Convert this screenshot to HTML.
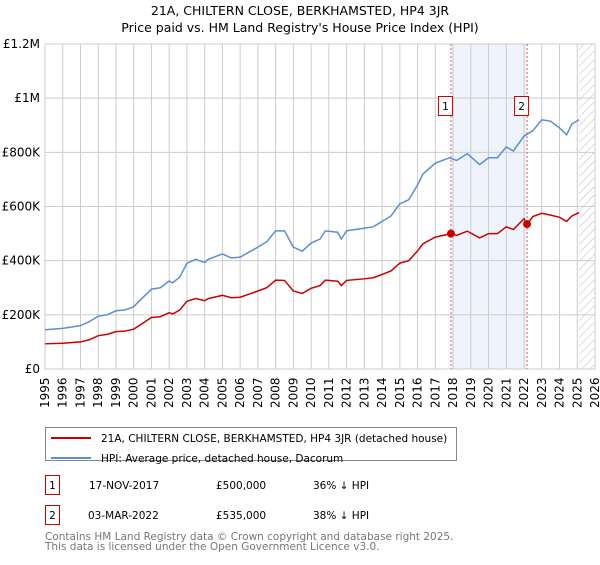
<!DOCTYPE html>
<html><head><meta charset="utf-8"><style>
body{margin:0;background:#fff;font-family:"Liberation Sans","DejaVu Sans",sans-serif}
svg text{font-family:"DejaVu Sans","Liberation Sans",sans-serif}
</style></head><body>
<svg id="c" width="600" height="560" xmlns="http://www.w3.org/2000/svg">
<defs><pattern id="hatch" width="6" height="6" patternUnits="userSpaceOnUse" patternTransform="rotate(45)"><line x1="0" y1="0" x2="0" y2="6" stroke="#bbb" stroke-width="1"/></pattern></defs>
<text x="300" y="15" text-anchor="middle" font-size="12.5">21A, CHILTERN CLOSE, BERKHAMSTED, HP4 3JR</text>
<text x="300" y="32" text-anchor="middle" font-size="12.5">Price paid vs. HM Land Registry's House Price Index (HPI)</text>
<g id="plot"></g>
<g>
<rect x="45.5" y="427.5" width="411" height="33" fill="#fff" stroke="#888"/>
<line x1="51" y1="438" x2="91" y2="438" stroke="#cc0000" stroke-width="2"/>
<text x="101" y="442" font-size="10.5">21A, CHILTERN CLOSE, BERKHAMSTED, HP4 3JR (detached house)</text>
<line x1="51" y1="458" x2="91" y2="458" stroke="#5b8fd4" stroke-width="2"/>
<text x="101" y="462" font-size="10.5">HPI: Average price, detached house, Dacorum</text>
</g>
<g font-size="10.5">
<rect x="45.5" y="475.5" width="14" height="19" fill="#fff" stroke="#cc0000"/>
<text x="52.5" y="489" text-anchor="middle">1</text>
<text x="89" y="489">17-NOV-2017</text><text x="216" y="489">£500,000</text><text x="313" y="489">36% ↓ HPI</text>
<rect x="45.5" y="505.5" width="14" height="19" fill="#fff" stroke="#cc0000"/>
<text x="52.5" y="519" text-anchor="middle">2</text>
<text x="88" y="519">03-MAR-2022</text><text x="216" y="519">£535,000</text><text x="313" y="519">38% ↓ HPI</text>
</g>
<text x="45" y="540" font-size="10.5" fill="#777">Contains HM Land Registry data © Crown copyright and database right 2025.</text>
<text x="45" y="550" font-size="10.5" fill="#777">This data is licensed under the Open Government Licence v3.0.</text>
</svg>
<script>
const yearTicks=[1995,1996,1997,1998,1999,2000,2001,2002,2003,2004,2005,2006,2007,2008,2009,2010,2011,2012,2013,2014,2015,2016,2017,2018,2019,2020,2021,2022,2023,2024,2025,2026];
const valueTicks=[0,200000,400000,600000,800000,1000000,1200000];
const valueTickLabels=["£0","£200K","£400K","£600K","£800K","£1M","£1.2M"];
const hpiYears=[1995,1996,1997,1997.5,1998,1998.5,1999,1999.5,2000,2000.3,2001,2001.5,2002,2002.2,2002.6,2003,2003.5,2004,2004.2,2005,2005.5,2006,2007,2007.5,2008,2008.5,2009,2009.5,2010,2010.5,2010.8,2011.5,2011.7,2012,2013,2013.5,2014,2014.5,2015,2015.5,2016,2016.3,2017,2017.8,2018.2,2018.8,2019.5,2020,2020.5,2021,2021.4,2022,2022.5,2023,2023.5,2024,2024.4,2024.7,2025.1];
const hpiValues=[145000,150000,160000,175000,195000,200000,215000,218000,230000,250000,295000,300000,325000,318000,340000,390000,405000,393000,405000,425000,410000,413000,450000,470000,510000,510000,450000,435000,465000,480000,510000,505000,480000,510000,520000,525000,545000,565000,610000,625000,680000,720000,760000,780000,770000,795000,755000,780000,780000,820000,805000,860000,880000,920000,915000,890000,865000,905000,920000];
const propYears=[1995,1996,1997,1997.5,1998,1998.5,1999,1999.5,2000,2000.3,2001,2001.5,2002,2002.2,2002.6,2003,2003.5,2004,2004.2,2005,2005.5,2006,2007,2007.5,2008,2008.5,2009,2009.5,2010,2010.5,2010.8,2011.5,2011.7,2012,2013,2013.5,2014,2014.5,2015,2015.5,2016,2016.3,2017,2017.88,2018.2,2018.8,2019.5,2020,2020.5,2021,2021.4,2022,2022.17,2022.5,2023,2023.5,2024,2024.4,2024.7,2025.1];
const propValues=[93000,95000,100000,108000,123000,128000,138000,140000,147000,160000,190000,193000,208000,203000,218000,250000,260000,252000,260000,272000,263000,265000,288000,300000,328000,327000,288000,279000,298000,308000,328000,324000,308000,327000,333000,337000,349000,362000,391000,400000,436000,462000,487000,500000,493000,509000,484000,500000,500000,525000,515000,555000,535000,563000,575000,568000,560000,545000,565000,578000];
const saleYears=[2017.88,2022.17];
const saleValues=[500000,535000];
const saleLabels=["1","2"];
const dataEndYear=2025.1;

const L=45,R=595,T=44,B=369,X0=1995,X1=2026,YMAX=1200000;
const xs=y=>L+(y-X0)/(X1-X0)*(R-L);
const ys=v=>B-v/YMAX*(B-T);
const NS="http://www.w3.org/2000/svg";
const g=document.getElementById('plot');
function mk(t,a,p){const e=document.createElementNS(NS,t);for(const k in a)e.setAttribute(k,a[k]);(p||g).appendChild(e);return e;}

const band=mk('rect',{x:xs(saleYears[0]),y:T,width:xs(saleYears[1])-xs(saleYears[0]),height:B-T,fill:'#eef3fc'});


const hat=mk('rect',{x:xs(dataEndYear),y:T,width:R-xs(dataEndYear),height:B-T,fill:'url(#hatch)'});



yearTicks.forEach(yr=>{
 const x=xs(yr);
 const l=mk('line',{x1:x,y1:T,x2:x,y2:B,stroke:'#ccc','stroke-width':1});
 
 
 const t=mk('text',{transform:`translate(${x+4},408) rotate(-90)`,'font-size':12});
 t.textContent=yr;
 
 
});
valueTicks.forEach((v,i)=>{
 const y=ys(v);
 const l=mk('line',{x1:L,y1:y,x2:R,y2:y,stroke:'#ccc','stroke-width':1});
 
 
 const t=mk('text',{x:40,y:y+4,'text-anchor':'end','font-size':12});
 t.textContent=valueTickLabels[i];
 
 
});
const fr=mk('rect',{x:L,y:T,width:R-L,height:B-T,fill:'none',stroke:'#ccc'});



saleYears.forEach((yr,i)=>{
 const x=xs(yr);
 const l=mk('line',{x1:x,y1:T,x2:x,y2:B,stroke:'#e06060','stroke-dasharray':'2,2','stroke-width':1});
 
 
 const b=mk('rect',{x:x-12.5,y:96.5,width:14,height:19,fill:'#fff',stroke:'#cc0000'});
 
 
 const t=mk('text',{x:x-5.5,y:110,'text-anchor':'middle','font-size':10.5});
 t.textContent=saleLabels[i];
 
 
});

const hp=mk('polyline',{points:hpiYears.map((y,i)=>xs(y)+','+ys(hpiValues[i])).join(' '),fill:'none',stroke:'#5b8fd4','stroke-width':1.5});


const pp=mk('polyline',{points:propYears.map((y,i)=>xs(y)+','+ys(propValues[i])).join(' '),fill:'none',stroke:'#cc0000','stroke-width':1.5});


saleYears.forEach((yr,i)=>{
 const c=mk('circle',{cx:xs(yr),cy:ys(saleValues[i]),r:4,fill:'#cc0000'});
 
 
});
</script>
</body></html>
